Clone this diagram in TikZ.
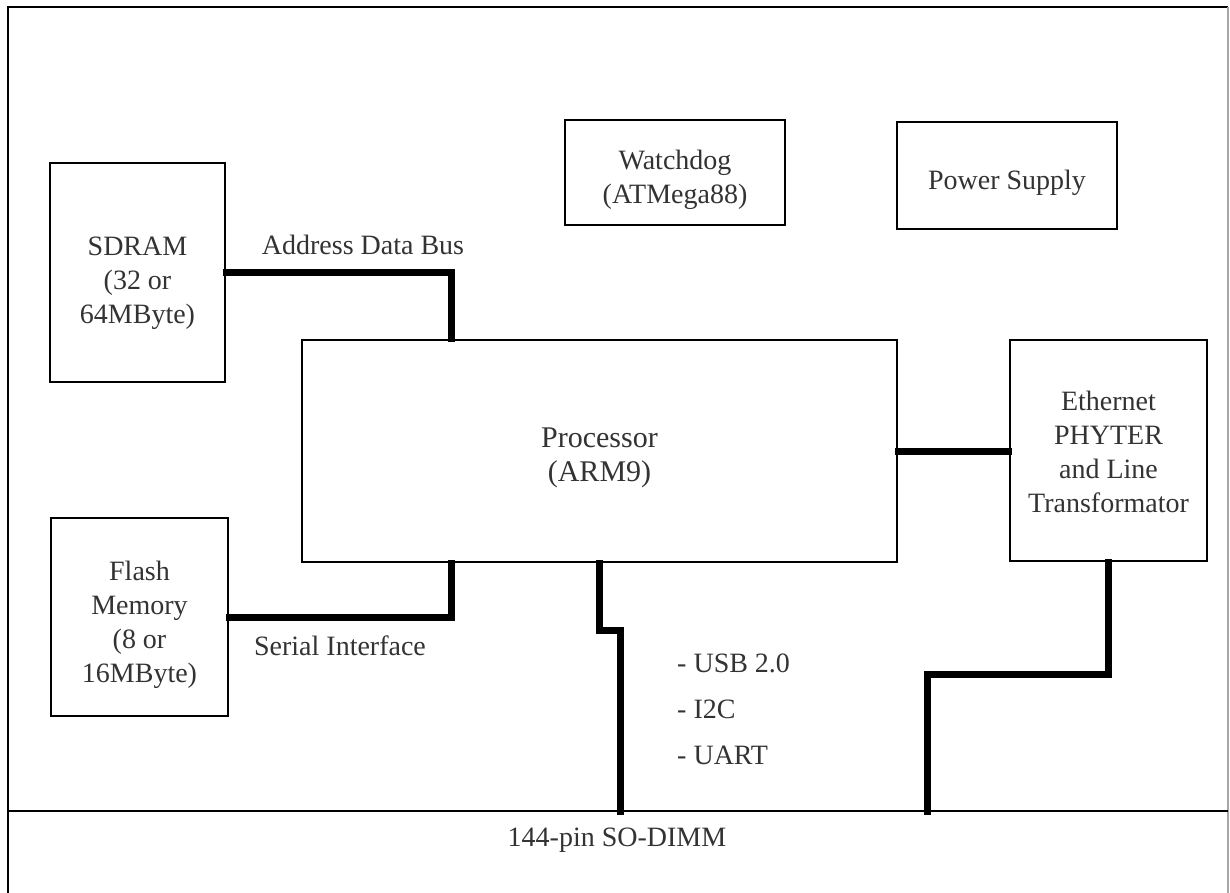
\documentclass[tikz,border=0pt]{standalone}
\usepackage{fontspec}
\setmainfont{Liberation Serif}
\newcommand{\bt}[2][7pt]{\raisebox{-#1}[\height][\depth]{\begin{tabular}{@{}c@{}}#2\end{tabular}}}
\begin{document}
\begin{tikzpicture}[x=1pt,y=-1pt,
  blk/.style={draw=black, line width=2.6pt, inner sep=0pt,
    font=\fontsize{28}{34}\selectfont, text=black!80},
  bus/.style={line width=7pt, line cap=rect, line join=miter},
  lbl/.style={inner sep=0pt, font=\fontsize{28}{34}\selectfont, text=black!80},
  frame/.style={line width=2.6pt}]
\useasboundingbox[fill=white] (0,0) rectangle (1230,893);
% outer frame
\draw[frame] (8,893) -- (8,7) -- (1228,7);
\draw[line width=1.5pt, black!35] (1228,7) -- (1228,893);
\coordinate (dimmL) at (8,811);
\coordinate (dimmR) at (1228,811);
\draw[frame] (dimmL) -- (dimmR);
\node[lbl] (dimm) at (617,840) {144-pin SO-DIMM};
% blocks
\node[blk, minimum width=175pt, minimum height=219pt] (sdram) at (137.5,272.5) {\bt[10pt]{SDRAM\\(32 or\\64MByte)}};
\node[blk, minimum width=220pt, minimum height=105pt] (wd) at (675,172.5) {\bt{Watchdog\\(ATMega88)}};
\node[blk, minimum width=220pt, minimum height=107pt] (ps) at (1007,175.5) {\bt{Power Supply}};
\node[blk, minimum width=595pt, minimum height=222pt, font=\fontsize{30}{34}\selectfont] (proc) at (599.5,451) {\bt{Processor\\(ARM9)}};
\node[blk, minimum width=197pt, minimum height=221pt] (eth) at (1108.5,450.5) {\bt[4pt]{Ethernet\\PHYTER\\and Line\\Transformator}};
\node[blk, minimum width=177pt, minimum height=198pt] (flash) at (139.5,617) {\bt[7.5pt]{Flash\\Memory\\(8 or\\16MByte)}};
% connectors
\coordinate (busx) at (451,0);
\coordinate (usbk) at (620,630);
\coordinate (ethk) at (927,674);
\draw[bus] (sdram.east) -| (busx |- proc.north);
\draw[bus] (flash.east) -| (busx |- proc.south);
\draw[bus] (proc.south) |- (usbk) -- (usbk |- dimmL);
\draw[bus] (proc.east) -- (proc.east -| eth.west);
\draw[bus] (eth.south) |- (ethk) -- (ethk |- dimmL);
% labels
\node[lbl] (adb) at (363,245) {Address Data Bus};
\node[lbl] (ser) at (340,646) {Serial Interface};
\node[lbl, anchor=west, align=left, font=\fontsize{28}{46}\selectfont] (usb) at (677,709) {- USB 2.0\\- I2C\\- UART};
\end{tikzpicture}
\end{document}
